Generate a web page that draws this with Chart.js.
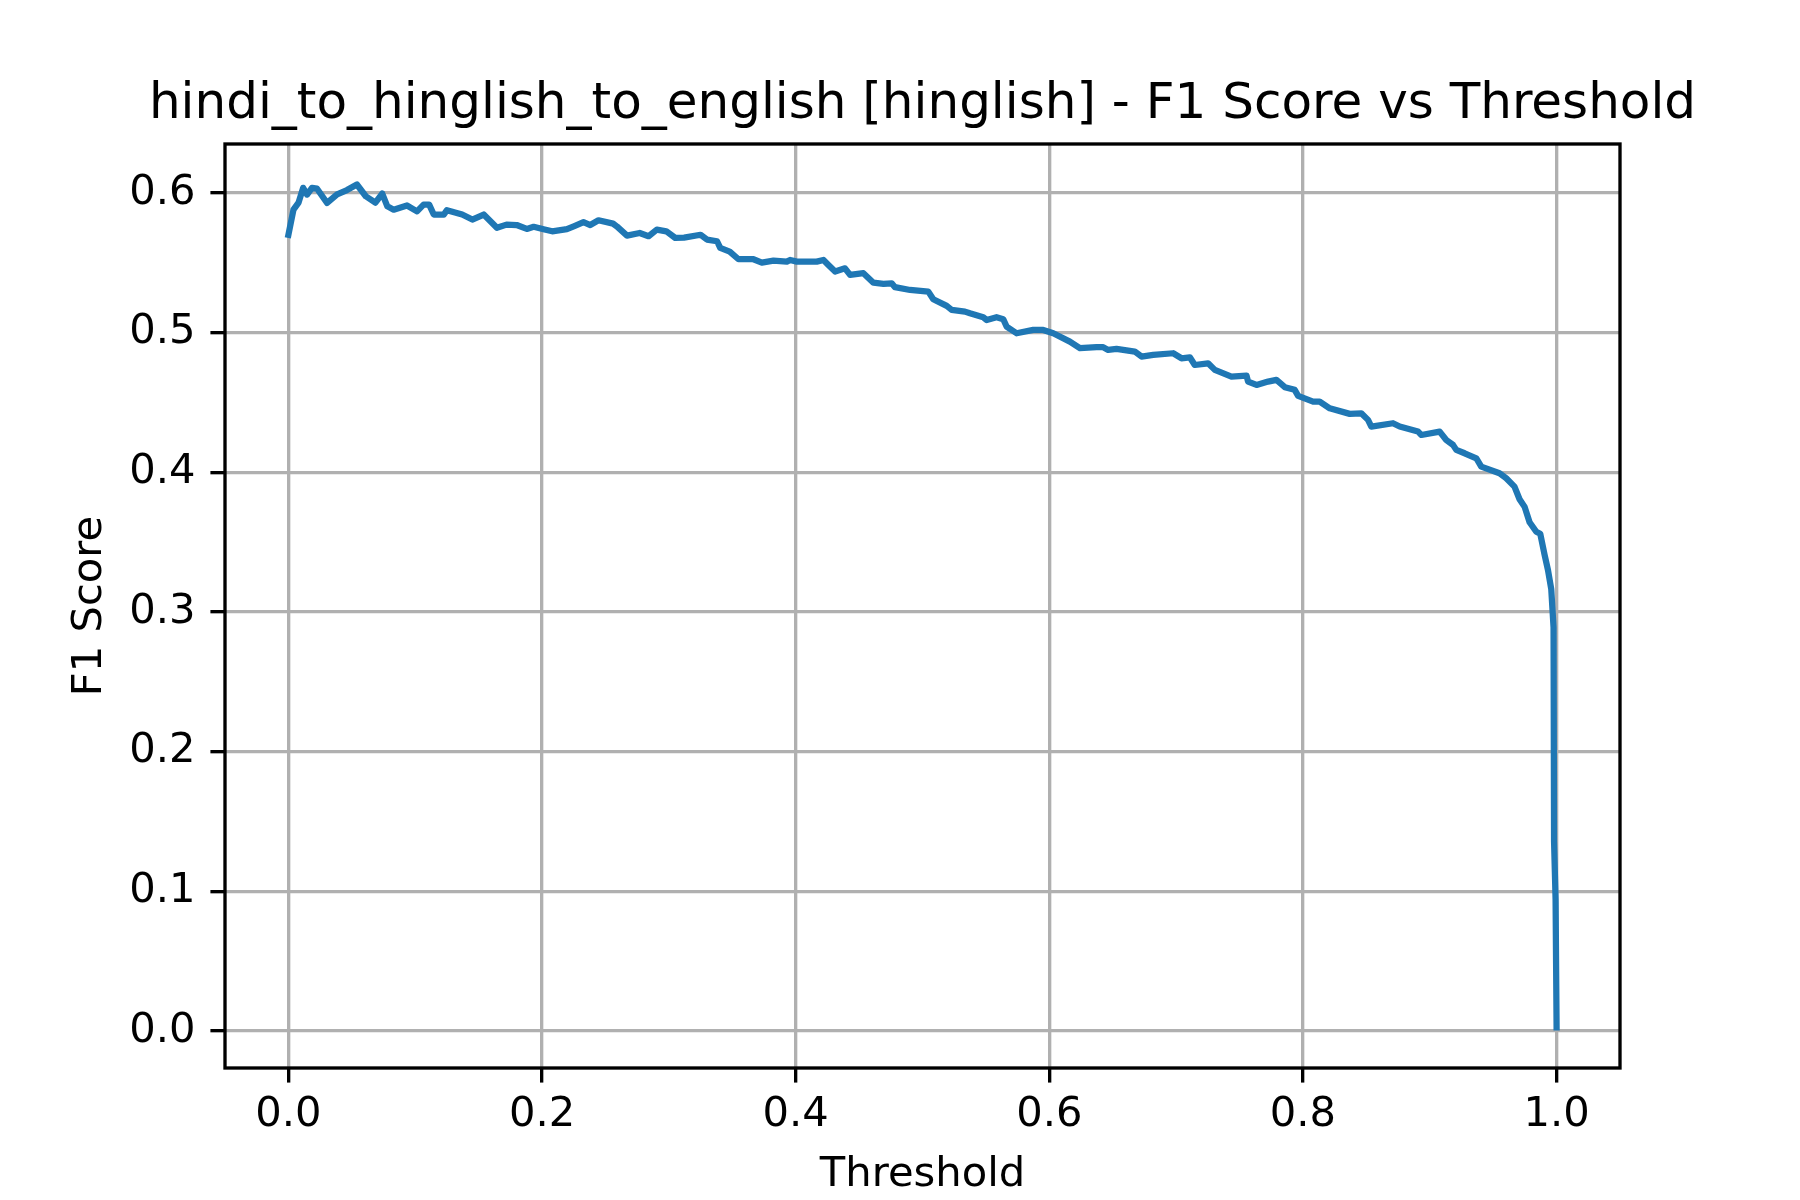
<!DOCTYPE html>
<html>
<head>
<meta charset="utf-8">
<script src="https://cdn.jsdelivr.net/npm/chart.js@4/dist/chart.umd.min.js"></script>
<style>
  html, body { margin: 0; padding: 0; background: #fff; }
  canvas { display: block; }
</style>
</head>
<body>
<canvas id="f1Chart" width="1800" height="1200"></canvas>
<script>
// threshold values (x)
const thresholds = [
  0.000, 0.004, 0.008, 0.0116, 0.0147, 0.0186, 0.0226, 0.0305, 0.0384, 0.0462,
  0.054, 0.061, 0.0686, 0.074, 0.078, 0.083, 0.0935, 0.1014, 0.1066, 0.111,
  0.1146, 0.1225, 0.125, 0.137, 0.145, 0.154, 0.1644, 0.172, 0.18, 0.188,
  0.1934, 0.2012, 0.208, 0.2196, 0.225, 0.2327, 0.238, 0.2445, 0.256, 0.259,
  0.267, 0.277, 0.284, 0.2905, 0.298, 0.305, 0.312, 0.325, 0.330, 0.338,
  0.3405, 0.348, 0.3549, 0.3667, 0.3733, 0.3825, 0.393, 0.3956, 0.4009, 0.4166,
  0.4219, 0.4258, 0.4311, 0.4389, 0.4429, 0.4534, 0.4613, 0.4692, 0.4757, 0.4783,
  0.4902, 0.5046, 0.5085, 0.5191, 0.523, 0.5335, 0.5374, 0.5479, 0.5506, 0.5584,
  0.5637, 0.5663, 0.5742, 0.5873, 0.5952, 0.6031, 0.6162, 0.6241, 0.6373, 0.6425,
  0.6464, 0.653, 0.6674, 0.6727, 0.6819, 0.6977, 0.7042, 0.7108, 0.7147, 0.7252,
  0.7305, 0.7436, 0.7555, 0.7567, 0.7634, 0.7725, 0.7791, 0.7857, 0.7935, 0.7962,
  0.808, 0.8132, 0.8211, 0.8369, 0.846, 0.8513, 0.8539, 0.871, 0.8763, 0.8907,
  0.8934, 0.9078, 0.913, 0.9183, 0.9209, 0.9275, 0.9367, 0.9406, 0.955, 0.9603,
  0.9668, 0.9708, 0.9748, 0.9787, 0.984, 0.9871, 0.9905, 0.9932, 0.9958, 0.9976,
  0.998, 0.9992, 1.000
];

// F1 score at each threshold (y)
const f1Scores = [
  0.570, 0.588, 0.593, 0.6036, 0.5988, 0.6036, 0.603, 0.5928, 0.599, 0.602,
  0.606, 0.5976, 0.593, 0.5995, 0.5904, 0.588, 0.591, 0.5868, 0.5916, 0.5916,
  0.5845, 0.5845, 0.5876, 0.5845, 0.5809, 0.5845, 0.575, 0.5773, 0.577, 0.5742,
  0.5757, 0.574, 0.5725, 0.574, 0.576, 0.579, 0.577, 0.5804, 0.578, 0.576,
  0.5694, 0.5713, 0.569, 0.5737, 0.5725, 0.5678, 0.568, 0.570, 0.5666, 0.5654,
  0.5606, 0.558, 0.5525, 0.5525, 0.5501, 0.5515, 0.5508, 0.552, 0.5508, 0.5508,
  0.552, 0.5484, 0.5437, 0.546, 0.5413, 0.5425, 0.5357, 0.5348, 0.5353, 0.5325,
  0.5305, 0.5293, 0.5239, 0.5191, 0.5162, 0.515, 0.5138, 0.511, 0.509, 0.511,
  0.5096, 0.5043, 0.4995, 0.5019, 0.5019, 0.4995, 0.4935, 0.4888, 0.4895, 0.4895,
  0.4876, 0.4883, 0.4864, 0.4828, 0.484, 0.4852, 0.4816, 0.4823, 0.4768, 0.478,
  0.4733, 0.4685, 0.4692, 0.4649, 0.4625, 0.4649, 0.4661, 0.4609, 0.459, 0.4547,
  0.4506, 0.4506, 0.4458, 0.4418, 0.4422, 0.4375, 0.4327, 0.4351, 0.4327, 0.4291,
  0.4267, 0.4291, 0.4231, 0.4196, 0.416, 0.4136, 0.41, 0.404, 0.3993, 0.3957,
  0.3897, 0.3807, 0.3752, 0.3642, 0.3574, 0.356, 0.341, 0.330, 0.3162, 0.2889,
  0.1355, 0.0944, 0.0026
];

// tick labels
const xTicks = [0.0, 0.2, 0.4, 0.6, 0.8, 1.0];
const yTicks = [0.0, 0.1, 0.2, 0.3, 0.4, 0.5, 0.6];

const FONT = "'DejaVu Sans', sans-serif";
const PT = 300 / 72; // matplotlib points at 300 dpi

// matplotlib draws a box round the axes
const spinePlugin = {
    id: 'spines',
    afterDraw(chart) {
        const { ctx, chartArea: a } = chart;
        ctx.save();
        ctx.strokeStyle = '#000';
        ctx.lineWidth = 0.8 * PT;
        ctx.strokeRect(a.left, a.top, a.right - a.left, a.bottom - a.top);
        ctx.restore();
    }
};

const points = thresholds.map((t, i) => ({ x: t, y: f1Scores[i] }));

const ctx = document.getElementById('f1Chart').getContext('2d');

new Chart(ctx, {
    type: 'line',
    data: {
        datasets: [{
            data: points,
            borderColor: '#1f77b4',
            borderWidth: 1.5 * PT,
            borderJoinStyle: 'round',
            borderCapStyle: 'square',
            pointRadius: 0,
            tension: 0,
            fill: false
        }]
    },
    options: {
        responsive: false,
        animation: false,
        devicePixelRatio: 1,
        // title box spans 45..1800 so it stays centred over the axes
        layout: { padding: { left: 45, right: 0, top: 0, bottom: 0 } },
        scales: {
            x: {
                type: 'linear',
                min: -0.05,
                max: 1.05,
                afterBuildTicks: (axis) => { axis.ticks = xTicks.map(v => ({ value: v })); },
                afterFit: (axis) => { axis.height = 132; },
                grid: {
                    color: '#b0b0b0',
                    lineWidth: 0.8 * PT,
                    tickColor: '#000',
                    tickWidth: 0.8 * PT,
                    tickLength: 3.5 * PT
                },
                border: { display: false },
                ticks: {
                    color: '#000',
                    padding: 8,
                    maxRotation: 0,
                    font: { family: FONT, size: 10 * PT },
                    callback: (v) => v.toFixed(1)
                },
                title: {
                    display: true,
                    text: 'Threshold',
                    color: '#000',
                    padding: { top: 0, bottom: 0 },
                    font: { family: FONT, size: 10 * PT }
                }
            },
            y: {
                type: 'linear',
                min: -0.0265,
                max: 0.635,
                afterBuildTicks: (axis) => { axis.ticks = yTicks.map(v => ({ value: v })); },
                afterFit: (axis) => { axis.width = 180; },
                grid: {
                    color: '#b0b0b0',
                    lineWidth: 0.8 * PT,
                    tickColor: '#000',
                    tickWidth: 0.8 * PT,
                    tickLength: 3.5 * PT
                },
                border: { display: false },
                ticks: {
                    color: '#000',
                    padding: 15,
                    font: { family: FONT, size: 10 * PT },
                    callback: (v) => v.toFixed(1)
                },
                title: {
                    display: true,
                    text: 'F1 Score',
                    color: '#000',
                    padding: { top: 20, bottom: 0 },
                    font: { family: FONT, size: 10 * PT }
                }
            },
            // empty right-hand margin of the figure
            yRight: {
                type: 'linear',
                position: 'right',
                display: true,
                afterFit: (axis) => { axis.width = 180; },
                grid: { display: false, drawTicks: false },
                border: { display: false },
                ticks: { display: false }
            }
        },
        plugins: {
            legend: { display: false },
            tooltip: { enabled: false },
            title: {
                display: true,
                text: 'hindi_to_hinglish_to_english [hinglish] - F1 Score vs Threshold',
                color: '#000',
                padding: { top: 75, bottom: 9 },
                font: { family: FONT, size: 12 * PT, weight: 'normal' }
            }
        }
    },
    plugins: [spinePlugin]
});
</script>
</body>
</html>
